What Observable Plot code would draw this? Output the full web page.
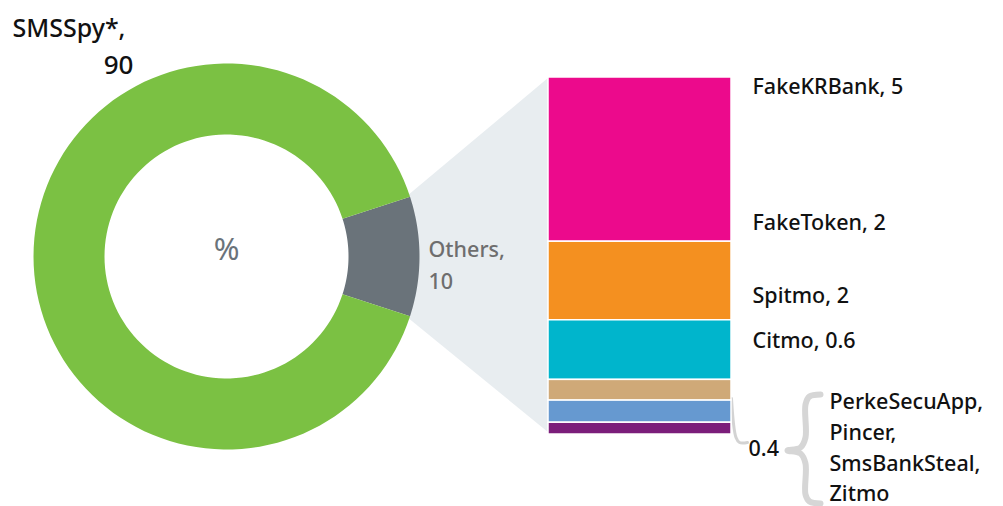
<!DOCTYPE html>
<html><head><meta charset="utf-8">
<script src="https://cdn.jsdelivr.net/npm/d3@7"></script>
<script src="https://cdn.jsdelivr.net/npm/@observablehq/plot@0.6"></script>
<style>
html,body{margin:0;padding:0;background:#fff;}
#wrap{position:relative;width:1003px;height:506px;}
#wrap svg{position:absolute;left:0;top:0;background:transparent;}
</style></head>
<body><div id="wrap"></div>
<script>
// ---- data ----
const donutNames = ["Others", "SMSSpy*"];
const donutValues = [10, 90];
const donutColors = ["#6a737a", "#7bc143"];
const barSegments = ["FakeKRBank", "FakeToken", "Spitmo", "Citmo", "0.4 group a", "0.4 group b"];
const barValues = [4.6, 2.2, 1.67, 0.58, 0.62, 0.33];
const barColors = ["#ec0a8c", "#f49020", "#00b5cc", "#cfa978", "#6699d0", "#7b1e7a"];
const rightLabels = ["FakeKRBank, 5", "FakeToken, 2", "Spitmo, 2", "Citmo, 0.6"];
const groupValueLabel = "0.4";
const groupNames = ["PerkeSecuApp,", "Pincer,", "SmsBankSteal,", "Zitmo"];
const bigLabel = ["SMSSpy*,", "90"];
const othersLabel = ["Others,", "10"];
const centerLabel = "%";

// ---- layout ----
const W = 1003, H = 506;
const cx = 226, cy = 256, rO = 193, rI = 122;
const barX = [548, 731], barY = [434, 77];
const font = "'Noto Sans', 'Open Sans', sans-serif";

const rad = Math.PI / 180;
const start = 72 * rad;
const arcs = d3.pie().sort(null).startAngle(start).endAngle(start + 2 * Math.PI)(donutValues);
const wedgePts = [];
arcs.forEach((a, i) => {
  const n = 120;
  for (let k = 0; k <= n; k++) {
    const t = a.startAngle + (a.endAngle - a.startAngle) * k / n;
    wedgePts.push({name: donutNames[i], color: donutColors[i], x: cx + rO * Math.sin(t), y: cy - rO * Math.cos(t)});
  }
  for (let k = n; k >= 0; k--) {
    const t = a.startAngle + (a.endAngle - a.startAngle) * k / n;
    wedgePts.push({name: donutNames[i], color: donutColors[i], x: cx + rI * Math.sin(t), y: cy - rI * Math.cos(t)});
  }
});
const oa = arcs[0];
const trap = [
  {x: cx + rO * Math.sin(oa.startAngle) - 4, y: cy - rO * Math.cos(oa.startAngle)},
  {x: barX[0], y: barY[1]},
  {x: barX[0], y: barY[0] - 2},
  {x: cx + rO * Math.sin(oa.endAngle) - 4, y: cy - rO * Math.cos(oa.endAngle)}
];
const connector = [{x: 731, y: 398}, {x: 735.5, y: 437}, {x: 739, y: 442}, {x: 747, y: 442}];
const brace = [
  {x: 820, y: 394}, {x: 809, y: 396}, {x: 805, y: 404}, {x: 805, y: 437},
  {x: 800, y: 447}, {x: 787, y: 450}, {x: 800, y: 453}, {x: 805, y: 463},
  {x: 805, y: 494}, {x: 809, y: 501}, {x: 820, y: 503}
];
const rightY = [87, 223, 296, 341];
const groupY = [402, 433, 464, 494];

const base = {
  width: W, height: H, margin: 0,
  x: {domain: [0, W], range: [0, W], axis: null},
  y: {domain: [0, H], range: [0, H], axis: null},
  color: {type: "identity"},
  style: {background: "transparent", fontFamily: font}
};

const fw = 500, fs = 21.5;
const plotA = Plot.plot({
  ...base,
  marks: [
    Plot.line(trap, {x: "x", y: "y", fill: "#e8edf0", stroke: null}),
    Plot.line(wedgePts, {x: "x", y: "y", z: "name", fill: "color", stroke: null}),
    Plot.line(connector, {x: "x", y: "y", stroke: "#d3d3d3", strokeWidth: 3, curve: "catmull-rom"}),
    Plot.line(brace, {x: "x", y: "y", stroke: "#d6d6d6", strokeWidth: 6, curve: "catmull-rom"}),
    Plot.text([centerLabel], {x: cx, y: cy - 6, text: d => d, fontSize: 31, fontWeight: 400, fill: "#6a737a", textAnchor: "middle"}),
    Plot.text([bigLabel[0]], {x: 12, y: 28, text: d => d, fontSize: 25, fontWeight: fw, fill: "#111", textAnchor: "start"}),
    Plot.text([bigLabel[1]], {x: 133, y: 65, text: d => d, fontSize: 26, fontWeight: fw, fill: "#111", textAnchor: "end"}),
    Plot.text(othersLabel, {x: 428, y: (d, i) => [250, 282][i], text: d => d, fontSize: fs, fontWeight: fw, fill: "#6e6e6e", textAnchor: "start"}),
    Plot.text(rightLabels, {x: 752, y: (d, i) => rightY[i], text: d => d, fontSize: fs, fontWeight: fw, fill: "#111", textAnchor: "start"}),
    Plot.text([groupValueLabel], {x: 748, y: 449, text: d => d, fontSize: fs, fontWeight: fw, fill: "#111", textAnchor: "start"}),
    Plot.text(groupNames, {x: 829, y: (d, i) => groupY[i], text: d => d, fontSize: fs, fontWeight: fw, fill: "#111", textAnchor: "start"})
  ]
});

const barData = barSegments.map((s, i) => ({name: s, value: barValues[i], color: barColors[i]}));
const plotB = Plot.plot({
  width: W, height: H, margin: 0,
  x: {domain: ["Others"], range: barX, padding: 0, axis: null},
  y: {domain: [0, 10], range: barY, axis: null},
  color: {type: "identity"},
  style: {background: "transparent"},
  marks: [
    Plot.barY(barData, {x: () => "Others", y: "value", fill: "color", reverse: true, stroke: "white", strokeWidth: 1.5})
  ]
});

const wrap = document.getElementById("wrap");
wrap.append(plotA, plotB);
</script></body></html>
